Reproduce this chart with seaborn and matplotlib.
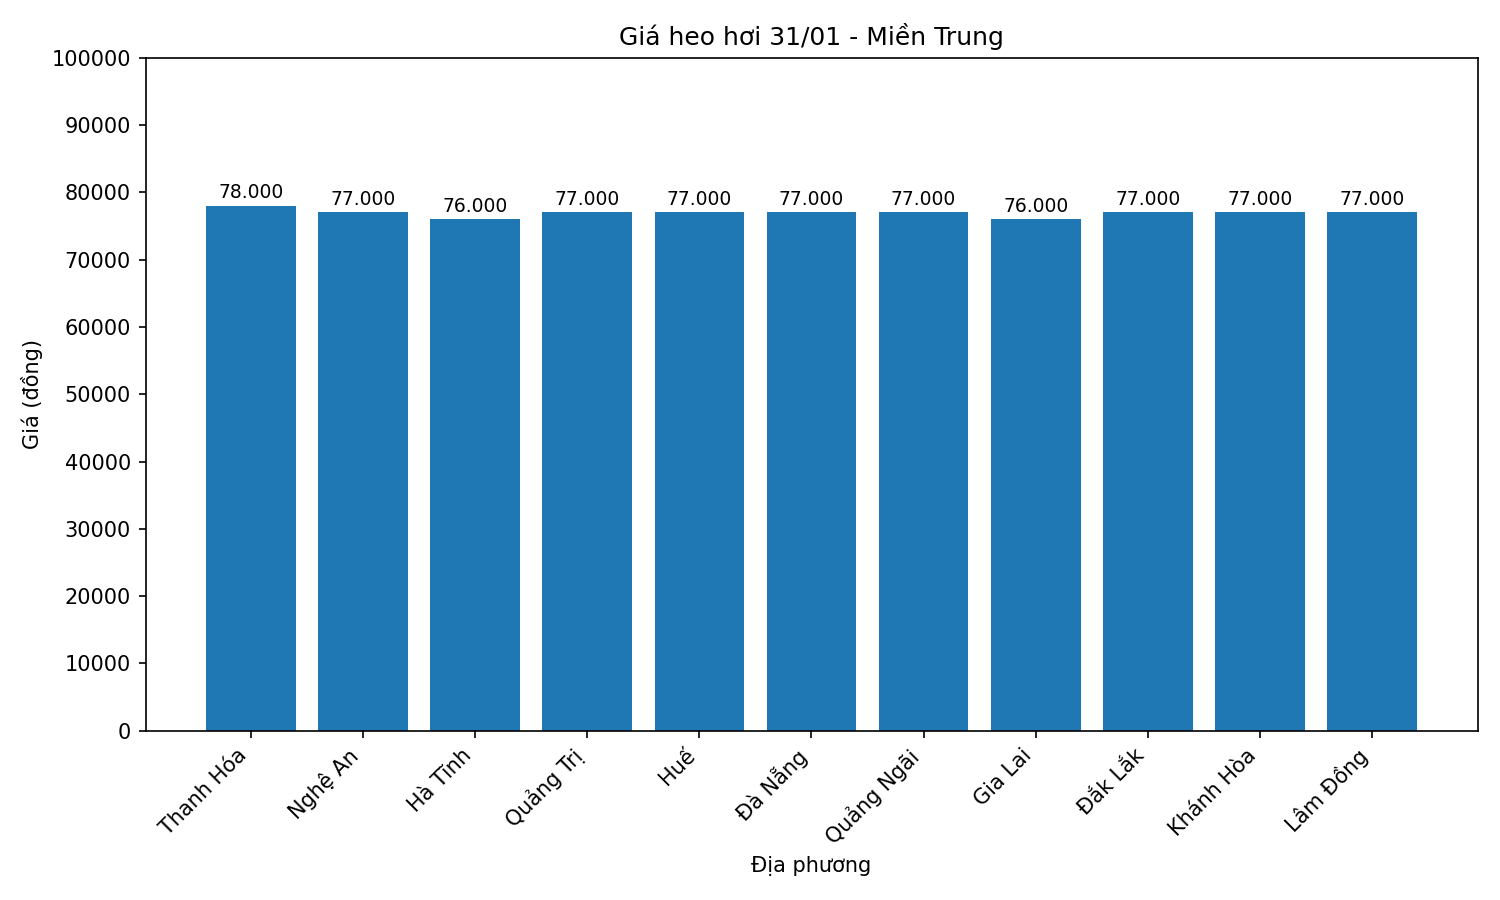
import matplotlib
matplotlib.use("Agg")
import matplotlib.pyplot as plt
import seaborn as sns
import pandas as pd

provinces = [
    "Thanh Hóa", "Nghệ An", "Hà Tĩnh", "Quảng Trị", "Huế", "Đà Nẵng",
    "Quảng Ngãi", "Gia Lai", "Đắk Lắk", "Khánh Hòa", "Lâm Đồng",
]
prices = [78000, 77000, 76000, 77000, 77000, 77000, 77000, 76000, 77000, 77000, 77000]

df = pd.DataFrame({"province": provinces, "price": prices})

fig, ax = plt.subplots(figsize=(10, 6), dpi=150)
sns.barplot(data=df, x="province", y="price", color="#1f77b4", saturation=1, width=0.8, ax=ax)

for bar, p in zip(ax.patches, prices):
    ax.text(bar.get_x() + bar.get_width() / 2, bar.get_height() + 500,
            f"{p:,}".replace(",", "."), ha="center", va="bottom", fontsize=9)

# matplotlib-style 5% margins instead of seaborn's tight categorical limits
n = len(provinces)
pad = 0.05 * (n - 0.2)
ax.set_xlim(-0.4 - pad, n - 0.6 + pad)
ax.set_ylim(0, 100000)
ax.set_yticks(range(0, 100001, 10000))
ax.set_title("Giá heo hơi 31/01 - Miền Trung")
ax.set_xlabel("Địa phương")
ax.set_ylabel("Giá (đồng)")
plt.setp(ax.get_xticklabels(), rotation=45, ha="right")
fig.subplots_adjust(left=0.097, right=0.985, top=0.936, bottom=0.188)
fig.savefig("out.png")
